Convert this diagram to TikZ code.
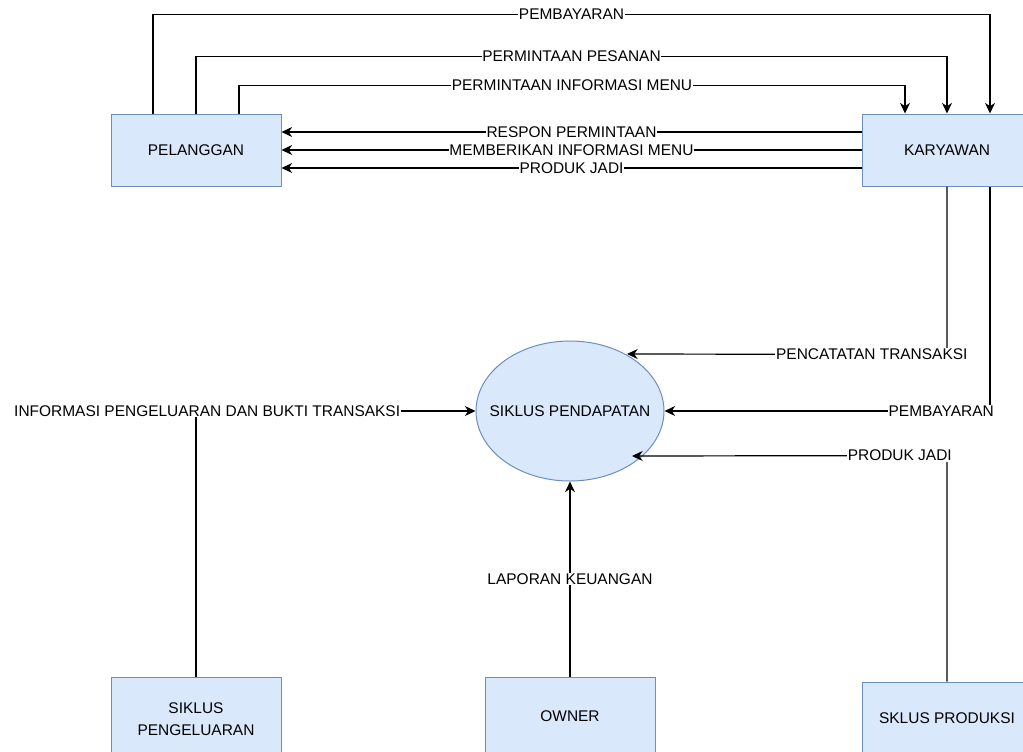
\documentclass[tikz,border=0pt]{standalone}
\usepackage{fontspec}
\setmainfont{Liberation Sans}
\usetikzlibrary{arrows.meta,shapes.geometric,calc}
\definecolor{boxfill}{HTML}{DAE8FC}
\definecolor{boxline}{HTML}{6C8EBF}
\begin{document}
\begin{tikzpicture}[x=0.75pt,y=-0.75pt,
  font=\fontsize{11.6}{13.5}\selectfont,
  box/.style={draw=boxline,fill=boxfill,line width=0.75pt,minimum width=127.5pt,minimum height=54pt,inner sep=0pt,align=center},
  proc/.style={ellipse,draw=boxline,fill=boxfill,line width=0.75pt,minimum width=141pt,minimum height=105pt,inner sep=0pt},
  lbl/.style={fill=white,inner sep=0.5pt},
  conn/.style={draw=black,line width=0.9pt},
  arr/.style={conn,-{Stealth[length=8pt,width=7.5pt]}}]
\useasboundingbox (0,0) rectangle (1023,751);
\clip (0,0) rectangle (1023,751);
\node[box] (pel) at (196,150) {PELANGGAN};
\node[box] (kar) at (947,150) {KARYAWAN};
\node[proc,label={center:SIKLUS PENDAPATAN}] (sik) at (570,411) {};
\node[box,minimum height=63pt] (peng) at (196,719) {SIKLUS\\[3.5pt]PENGELUARAN};
\node[box,minimum height=58.5pt] (own) at (570,716) {OWNER};
\node[box] (prod) at (947,718) {SKLUS PRODUKSI};
% top flows
\draw[arr] ($(pel.north)+(-43,0)$) -- ++(0,-99) -- node[lbl]{PEMBAYARAN} ($(kar.north)+(43,-99)$) -- ($(kar.north)+(43,0)$);
\draw[arr] (pel.north) -- ++(0,-57) -- node[lbl]{PERMINTAAN PESANAN} ($(kar.north)+(0,-57)$) -- (kar.north);
\draw[arr] ($(pel.north)+(43,0)$) -- ++(0,-28) -- node[lbl]{PERMINTAAN INFORMASI MENU} ($(kar.north)+(-42,-28)$) -- ($(kar.north)+(-42,0)$);
% back flows
\draw[arr] ($(kar.west)+(0,-18)$) -- node[lbl]{RESPON PERMINTAAN} ($(pel.east)+(0,-18)$);
\draw[arr] (kar.west) -- node[lbl]{MEMBERIKAN INFORMASI MENU} (pel.east);
\draw[arr] ($(kar.west)+(0,18)$) -- node[lbl]{PRODUK JADI} ($(pel.east)+(0,18)$);
% to process
\draw[arr] (kar.south) -- ($(kar.south)+(0,168)$) -- node[lbl,pos=0.235]{PENCATATAN TRANSAKSI} ($(sik.center)+(57,-57)$);
\draw[arr] ($(kar.south)+(43,0)$) |- node[lbl,pos=0.575]{PEMBAYARAN} (sik.east);
\draw[arr] (prod.north) -- ($(prod.north)+(0,-226)$) -- node[lbl,pos=0.15]{PRODUK JADI} ($(sik.center)+(62,45)$);
\draw[arr] (peng.north) |- node[lbl,pos=0.52]{INFORMASI PENGELUARAN DAN BUKTI TRANSAKSI} (sik.west);
\draw[arr] (own.north) -- node[lbl]{LAPORAN KEUANGAN} (sik.south);
\end{tikzpicture}
\end{document}
